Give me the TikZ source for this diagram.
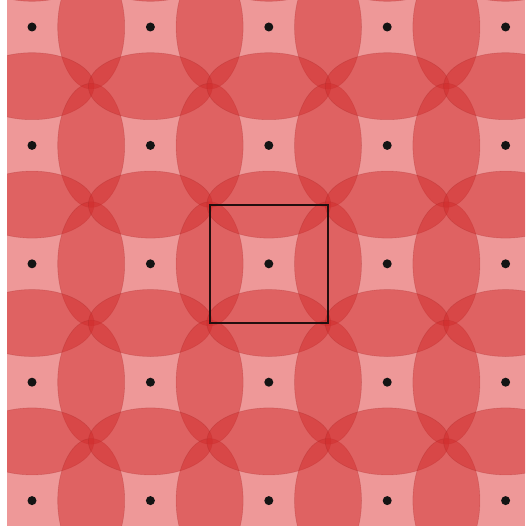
\documentclass[tikz,border=0pt]{standalone}
\definecolor{bgpink}{RGB}{238,152,152}
\definecolor{lobe}{RGB}{210,45,45}
\definecolor{celledge}{RGB}{35,15,15}
\begin{document}
\begin{tikzpicture}[x=1pt,y=-1pt,
  lobestyle/.style={fill=lobe, fill opacity=0.5, draw=lobe!75!black, draw opacity=0.25, line width=0.6pt},
  dotstyle/.style={circle, fill=black!92, inner sep=0pt, minimum size=9pt},
  cellstyle/.style={draw=celledge, line width=2pt, minimum size=118.4pt, inner sep=0pt, fill=none}]
\useasboundingbox (0,0) rectangle (525,526);
\fill[bgpink] (7,0) rectangle (525,526);
\begin{scope}
\clip (7,0) rectangle (525,526);
\foreach \i in {-1,...,4} {
  \foreach \j in {-1,...,4} {
    \path[lobestyle] ({32+118.4*\i+59.2},{27+118.4*\j}) ellipse [x radius=33.5, y radius=62];
    \path[lobestyle] ({32+118.4*\i},{27+118.4*\j+59.2}) ellipse [x radius=62, y radius=33.5];
  }
}
\end{scope}
\foreach \i in {0,...,4} {
  \foreach \j in {0,...,4} {
    \node[dotstyle] (d-\i-\j) at ({32+118.4*\i},{27+118.4*\j}) {};
  }
}
\node[cellstyle] (cell) at (d-2-2) {};
\end{tikzpicture}
\end{document}
